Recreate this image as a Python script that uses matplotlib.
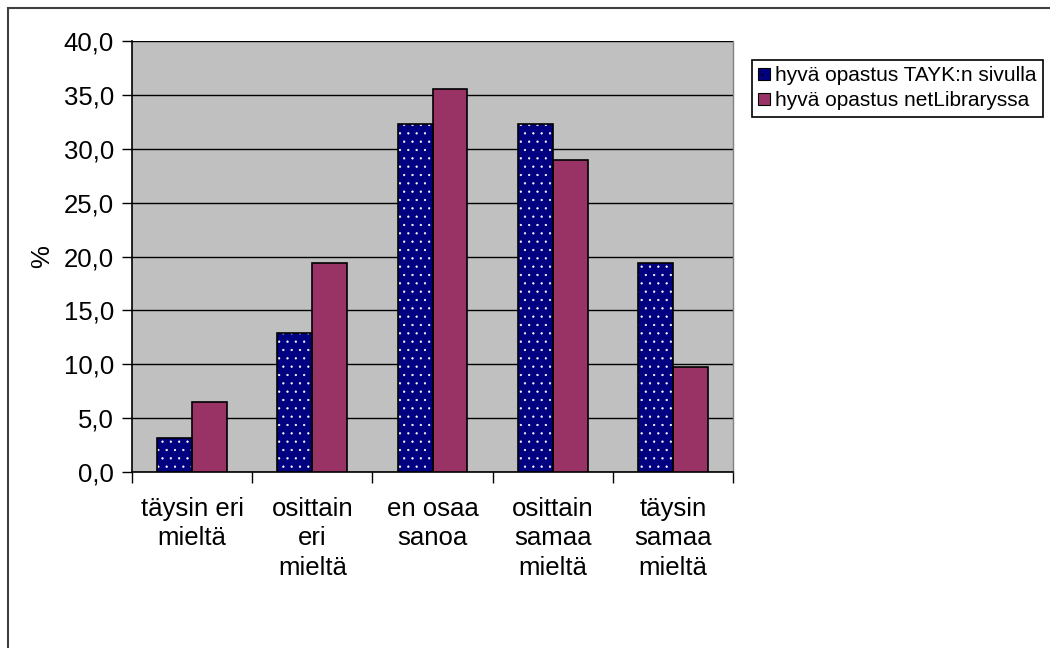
import matplotlib
matplotlib.use("Agg")
import matplotlib.pyplot as plt
import matplotlib.patches as mpatches
import numpy as np

plt.rcParams['font.family'] = ['Liberation Sans', 'DejaVu Sans']
plt.rcParams['hatch.linewidth'] = 0.4

categories = ["täysin eri\nmieltä", "osittain\neri\nmieltä", "en osaa\nsanoa",
              "osittain\nsamaa\nmieltä", "täysin\nsamaa\nmieltä"]
series_names = ["hyvä opastus TAYK:n sivulla", "hyvä opastus netLibraryssa"]
tayk = [3.2, 12.9, 32.3, 32.3, 19.4]
netlib = [6.5, 19.4, 35.5, 29.0, 9.7]
yticks = [0, 5, 10, 15, 20, 25, 30, 35, 40]

navy = "#000080"
maroon = "#993366"
plot_bg = "#C0C0C0"

W, H = 1050, 648
fig = plt.figure(figsize=(W / 100, H / 100), dpi=100)
fig.patch.set_facecolor("white")

ax = fig.add_axes([132 / W, 1 - 472 / H, (733 - 132) / W, (472 - 41) / H])
ax.set_facecolor(plot_bg)

x = np.arange(len(categories))
bw = 0.29

# dotted fill for the first series: navy fill with white dot hatch, then a black outline
ax.bar(x - bw / 2, tayk, bw, color=navy, edgecolor="white", hatch="..",
       linewidth=0, zorder=3)
ax.bar(x - bw / 2, tayk, bw, fill=False, edgecolor="black", linewidth=1.2, zorder=4)
ax.bar(x + bw / 2, netlib, bw, color=maroon, edgecolor="black", linewidth=1.2, zorder=3)

ax.set_xlim(-0.5, len(categories) - 0.5)
ax.set_ylim(0, 40)

ax.set_yticks(yticks)
ax.set_yticklabels([f"{v:.1f}".replace(".", ",") for v in yticks], fontsize=18.5)
ax.yaxis.grid(True, color="black", linewidth=1.0, zorder=1)
ax.set_axisbelow(True)
ax.tick_params(axis="y", direction="out", length=7, width=1, pad=6, colors="black")

# category ticks sit on the boundaries, labels centred below each group
ax.set_xticks(np.arange(-0.5, len(categories), 1.0))
ax.set_xticklabels([])
ax.set_xticks(x, minor=True)
ax.set_xticklabels(categories, minor=True, fontsize=18.5, linespacing=1.28, va="top")
ax.tick_params(axis="x", which="major", direction="out", length=8, width=1)
ax.tick_params(axis="x", which="minor", length=0, pad=18)

for side in ["left", "bottom"]:
    ax.spines[side].set_color("black")
    ax.spines[side].set_linewidth(1.2)
ax.spines["top"].set_visible(False)
ax.spines["right"].set_color("#808080")
ax.spines["right"].set_linewidth(1.0)

ax.set_ylabel("%", fontsize=18.5, labelpad=7)

handles = [mpatches.Patch(facecolor=navy, edgecolor="black", hatch="..", linewidth=0.8),
           mpatches.Patch(facecolor=maroon, edgecolor="black", linewidth=0.8)]
leg = fig.legend(handles, series_names, loc="upper left",
                 bbox_to_anchor=(752 / W, 1 - 60 / H), fontsize=15,
                 frameon=True, fancybox=False, framealpha=1, edgecolor="black",
                 handlelength=0.55, handleheight=0.55, handletextpad=0.25,
                 borderpad=0.3, labelspacing=0.3, borderaxespad=0)
leg.get_frame().set_linewidth(1.2)

# outer chart frame
frame = mpatches.Rectangle((8 / W, -0.05), 1.2, 1 - 8 / H + 0.05, transform=fig.transFigure,
                           fill=False, edgecolor="#404040", linewidth=1.5)
fig.patches.append(frame)

fig.savefig("out.png", dpi=100)
